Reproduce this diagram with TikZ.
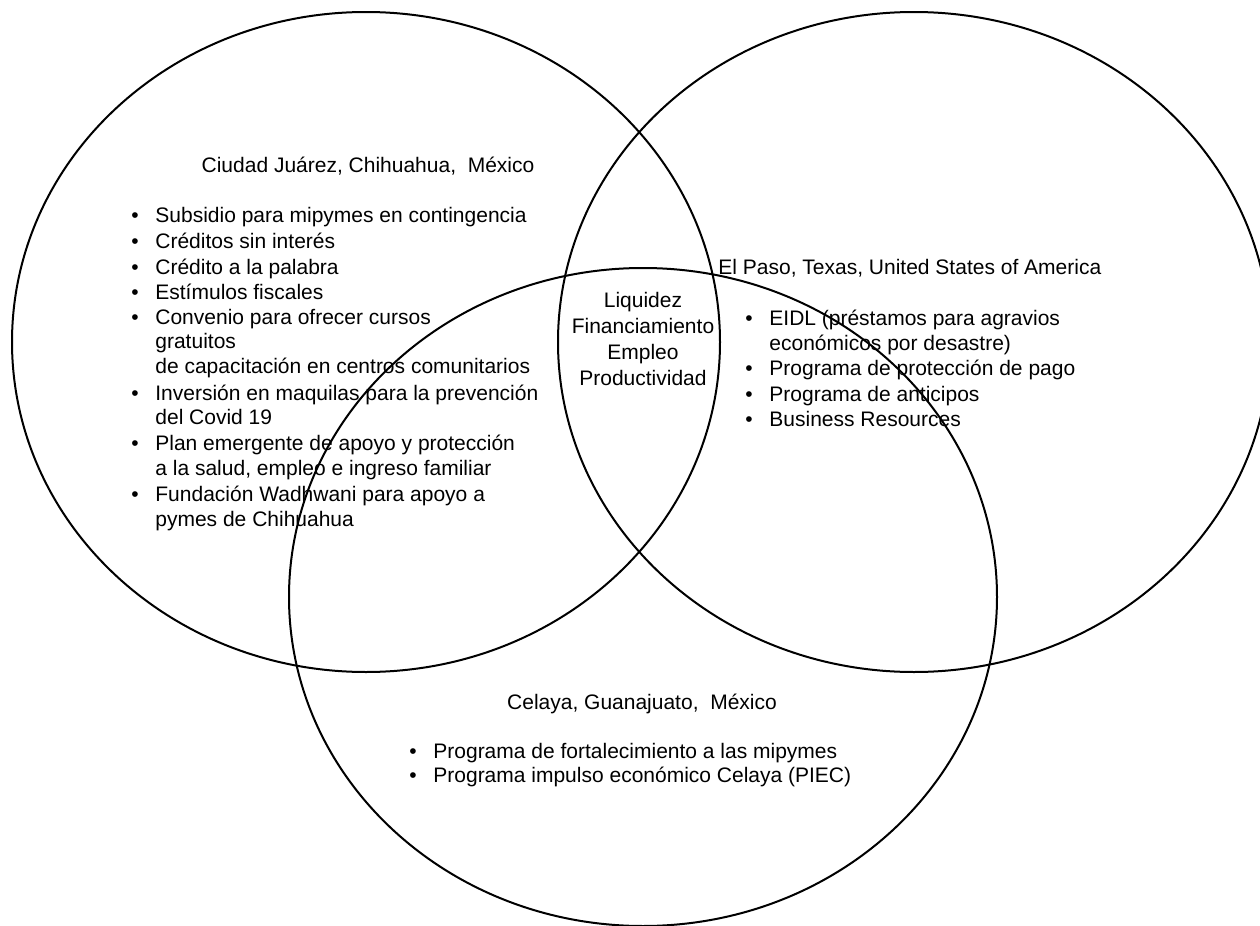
\documentclass[tikz,border=0pt]{standalone}
\usepackage{fontspec}
\setmainfont{Liberation Sans}
\begin{document}
\begin{tikzpicture}[x=0.5pt,y=-0.5pt,
  ring/.style={draw=black,line width=1pt},
  txt/.style={inner sep=0pt,anchor=base west,font=\fontsize{10.5}{12.5}\selectfont},
  ctxt/.style={inner sep=0pt,anchor=base,font=\fontsize{10.5}{12.5}\selectfont},
  blt/.style={inner sep=0pt,anchor=base west,font=\fontsize{10.5}{12.5}\selectfont}]
\useasboundingbox (0,0) rectangle (1260,926);
% circles
\draw[ring] (366,342) ellipse [x radius=177pt, y radius=165pt];
\draw[ring] (914,342) ellipse [x radius=178pt, y radius=165pt];
\draw[ring] (643,597) ellipse [x radius=177pt, y radius=164.5pt];
% left set
\node[ctxt] (lh) at (368,172) {Ciudad Juárez, Chihuahua,\ \ México};
\foreach \t/\yy [count=\i] in {
  {Subsidio para mipymes en contingencia}/222,
  {Créditos sin interés}/248,
  {Crédito a la palabra}/274,
  {Estímulos fiscales}/299,
  {Convenio para ofrecer cursos}/324,
  {gratuitos}/348,
  {de capacitación en centros comunitarios}/373,
  {Inversión en maquilas para la prevención}/400,
  {del Covid 19}/424,
  {Plan emergente de apoyo y protección}/450,
  {a la salud, empleo e ingreso familiar}/475,
  {Fundación Wadhwani para apoyo a}/501,
  {pymes de Chihuahua}/526}
  {\node[txt] (l\i) at (155,\yy) {\t};}
\foreach \yy [count=\i] in {222,248,274,299,324,400,450,501}
  {\node[blt] (lb\i) at (131,\yy) {•};}
% center
\foreach \t/\yy [count=\i] in {Liquidez/307,Financiamiento/333,Empleo/359,Productividad/385}
  {\node[ctxt] (c\i) at (643,\yy) {\t};}
% right set
\node[txt] (rh) at (718,274) {El Paso, Texas, United States of America};
\foreach \t/\yy [count=\i] in {
  {EIDL (préstamos para agravios}/325,
  {económicos por desastre)}/350,
  {Programa de protección de pago}/375,
  {Programa de anticipos}/401,
  {Business Resources}/426}
  {\node[txt] (r\i) at (769,\yy) {\t};}
\foreach \yy [count=\i] in {325,375,401,426}
  {\node[blt] (rb\i) at (745,\yy) {•};}
% bottom set
\node[ctxt] (bh) at (642,709) {Celaya, Guanajuato,\ \ México};
\foreach \t/\yy [count=\i] in {
  {Programa de fortalecimiento a las mipymes}/758,
  {Programa impulso económico Celaya (PIEC)}/782}
  {\node[txt] (b\i) at (433,\yy) {\t};}
\foreach \yy [count=\i] in {758,782}
  {\node[blt] (bb\i) at (409,\yy) {•};}
\end{tikzpicture}
\end{document}
